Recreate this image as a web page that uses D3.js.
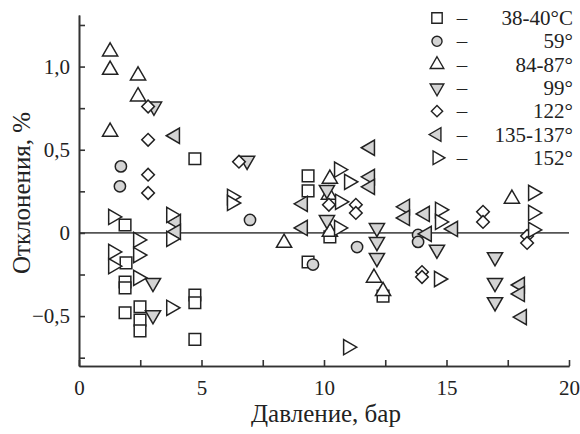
<!DOCTYPE html>
<html lang="ru">
<head>
<meta charset="UTF-8">
<title>Отклонения</title>
<script src="https://cdn.jsdelivr.net/npm/d3@7"></script>
<style>
  body { margin: 0; background: #fff; }
  text { font-family: "Liberation Serif", "DejaVu Serif", serif; fill: #222; }
</style>
</head>
<body>
<script>
// давление (бар), отклонение (%)
var s38 = [[4.73,0.446],[1.88,0.048],[1.92,-0.18],[1.88,-0.295],[1.88,-0.33],[1.88,-0.48],
  [2.49,-0.444],[2.49,-0.524],[2.49,-0.589],[4.73,-0.373],[4.73,-0.42],[4.73,-0.64],
  [9.35,0.343],[9.35,0.253],[9.35,-0.175],[10.24,-0.024],[12.41,-0.38]];
var s59 = [[1.71,0.40],[1.67,0.28],[6.98,0.078],[9.55,-0.19],[11.35,-0.085],[13.84,-0.012],[13.84,-0.054]];
var s84 = [[1.27,1.09],[1.27,0.98],[2.41,0.946],[2.41,0.82],[1.27,0.608],[8.37,-0.06],
  [10.24,0.325],[10.2,0.229],[10.24,0.006],[12.04,-0.27],[12.41,-0.35],[17.67,0.205]];
var s99 = [[3.06,0.76],[6.86,0.434],[3.02,-0.30],[3.02,-0.494],[10.12,0.259],[10.12,0.078],
  [12.16,0.03],[12.16,-0.054],[12.16,-0.15],[14.61,-0.10],[16.98,-0.145],[16.98,-0.30],[16.98,-0.416]];
var s122 = [[2.82,0.76],[2.82,0.56],[2.82,0.35],[2.82,0.24],[6.53,0.428],[10.2,0.169],[11.3,0.169],
  [11.3,0.12],[14.0,-0.235],[14.0,-0.265],[16.49,0.127],[16.49,0.066],[18.29,-0.018],[18.29,-0.06]];
var s135 = [[3.92,0.584],[3.96,0.066],[3.96,0.006],[9.14,0.175],[9.14,0.03],[11.88,0.512],
  [11.88,0.337],[11.88,0.277],[13.31,0.157],[13.31,0.09],[14.12,0.114],[14.2,-0.006],
  [15.27,0.024],[18.0,-0.313],[18.0,-0.367],[18.08,-0.506]];
var s152 = [[6.24,0.217],[6.24,0.18],[1.39,0.096],[3.76,0.108],[3.76,-0.036],[2.41,-0.042],
  [1.39,-0.114],[2.41,-0.133],[1.39,-0.2],[2.41,-0.27],[3.76,-0.45],[10.61,0.38],[11.02,0.307],
  [10.65,0.187],[10.61,0.03],[10.98,-0.687],[14.73,0.139],[14.73,0.066],[14.69,-0.277],
  [18.53,0.241],[18.53,0.12],[18.53,0.018]];

var legendLabels = ["38-40°C", "59°", "84-87°", "99°", "122°", "135-137°", "152°"];
var xTicks = [0, 5, 10, 15, 20];
var xMinor = [2.5, 7.5, 12.5, 17.5];
var yTicks = [-0.5, 0, 0.5, 1.0];
var yMinor = [-0.75, -0.25, 0.25, 0.75, 1.25];

var series = [s38, s59, s84, s99, s122, s135, s152];
// marker look for each series
var marks = [
  {type: d3.symbolSquare, size: 135, rot: 0, fill: "#fff"},
  {type: d3.symbolCircle, size: 100, rot: 0, fill: "#d4d4d4"},
  {type: d3.symbolTriangle, size: 100, rot: 0, fill: "#fff"},
  {type: d3.symbolTriangle, size: 100, rot: 180, fill: "#d4d4d4"},
  {type: d3.symbolSquare, size: 80, rot: 45, fill: "#fff"},
  {type: d3.symbolTriangle, size: 100, rot: -90, fill: "#d4d4d4"},
  {type: d3.symbolTriangle, size: 100, rot: 90, fill: "#fff"}
];

var w = 580, h = 434;
var svg = d3.select("body").append("svg").attr("width", w).attr("height", h);

var xScale = d3.scaleLinear().domain([0, 20]).range([79, 569]);
var yScale = d3.scaleLinear().domain([-0.8, 1.31]).range([366, 15]);

var fmt = function(d) {
  return d === 0 ? "0" : d3.format(".1f")(d).replace(".", ",");
};

// zero line
svg.append("line")
   .attr("x1", xScale(0)).attr("x2", xScale(20))
   .attr("y1", yScale(0)).attr("y2", yScale(0))
   .attr("stroke", "#555").attr("stroke-width", 1.6);

// axes
var xAxis = d3.axisBottom(xScale).tickValues(xTicks).tickFormat(d3.format("d"))
              .tickSizeInner(-6).tickSizeOuter(0).tickPadding(14);
var xAxisMinor = d3.axisBottom(xScale).tickValues(xMinor).tickFormat("")
              .tickSizeInner(-6).tickSizeOuter(0);
var yAxis = d3.axisLeft(yScale).tickValues(yTicks).tickFormat(fmt)
              .tickSizeInner(-6).tickSizeOuter(0).tickPadding(9);
var yAxisMinor = d3.axisLeft(yScale).tickValues(yMinor).tickFormat("")
              .tickSizeInner(-6).tickSizeOuter(0);

[[xAxis, "x"], [xAxisMinor, "x"], [yAxis, "y"], [yAxisMinor, "y"]].forEach(function(a) {
  var g = svg.append("g")
     .attr("transform", a[1] === "x" ? "translate(0,366)" : "translate(79,0)")
     .call(a[0]);
  g.selectAll("path, line").attr("stroke", "#333").attr("stroke-width", 1.6);
  g.selectAll("text").style("font-family", '"Liberation Serif", serif')
   .style("font-size", "21px").attr("fill", "#222");
});

// axis titles
svg.append("text")
   .text("Давление, бар")
   .attr("text-anchor", "middle")
   .attr("x", 326).attr("y", 422)
   .style("font-size", "25px");
svg.append("text")
   .text("Отклонения, %")
   .attr("text-anchor", "middle")
   .attr("transform", "translate(30,193)rotate(-90)")
   .style("font-size", "25px");

// points
var sym = d3.symbol();
series.forEach(function(data, i) {
  var m = marks[i];
  svg.append("g").selectAll("path")
     .data(data)
     .enter()
     .append("path")
     .attr("d", sym.type(m.type).size(m.size)())
     .attr("transform", function(d) {
       return "translate(" + xScale(d[0]) + "," + yScale(d[1]) + ")rotate(" + m.rot + ")";
     })
     .attr("fill", m.fill)
     .attr("stroke", "#222")
     .attr("stroke-width", 1.5);
});

// legend
var leg = svg.append("g");
legendLabels.forEach(function(lab, i) {
  var m = marks[i];
  var y = 18 + i * 23.3;
  leg.append("path")
     .attr("d", sym.type(m.type).size(m.size * 0.8)())
     .attr("transform", "translate(437," + y + ")rotate(" + m.rot + ")")
     .attr("fill", m.fill).attr("stroke", "#222").attr("stroke-width", 1.4);
  leg.append("text").text("–")
     .attr("x", 462).attr("y", y + 7)
     .attr("text-anchor", "middle")
     .style("font-size", "21px").attr("fill", "#777");
  leg.append("text").text(lab)
     .attr("x", 573).attr("y", y + 7)
     .attr("text-anchor", "end")
     .style("font-size", "21px");
});
</script>
</body>
</html>
